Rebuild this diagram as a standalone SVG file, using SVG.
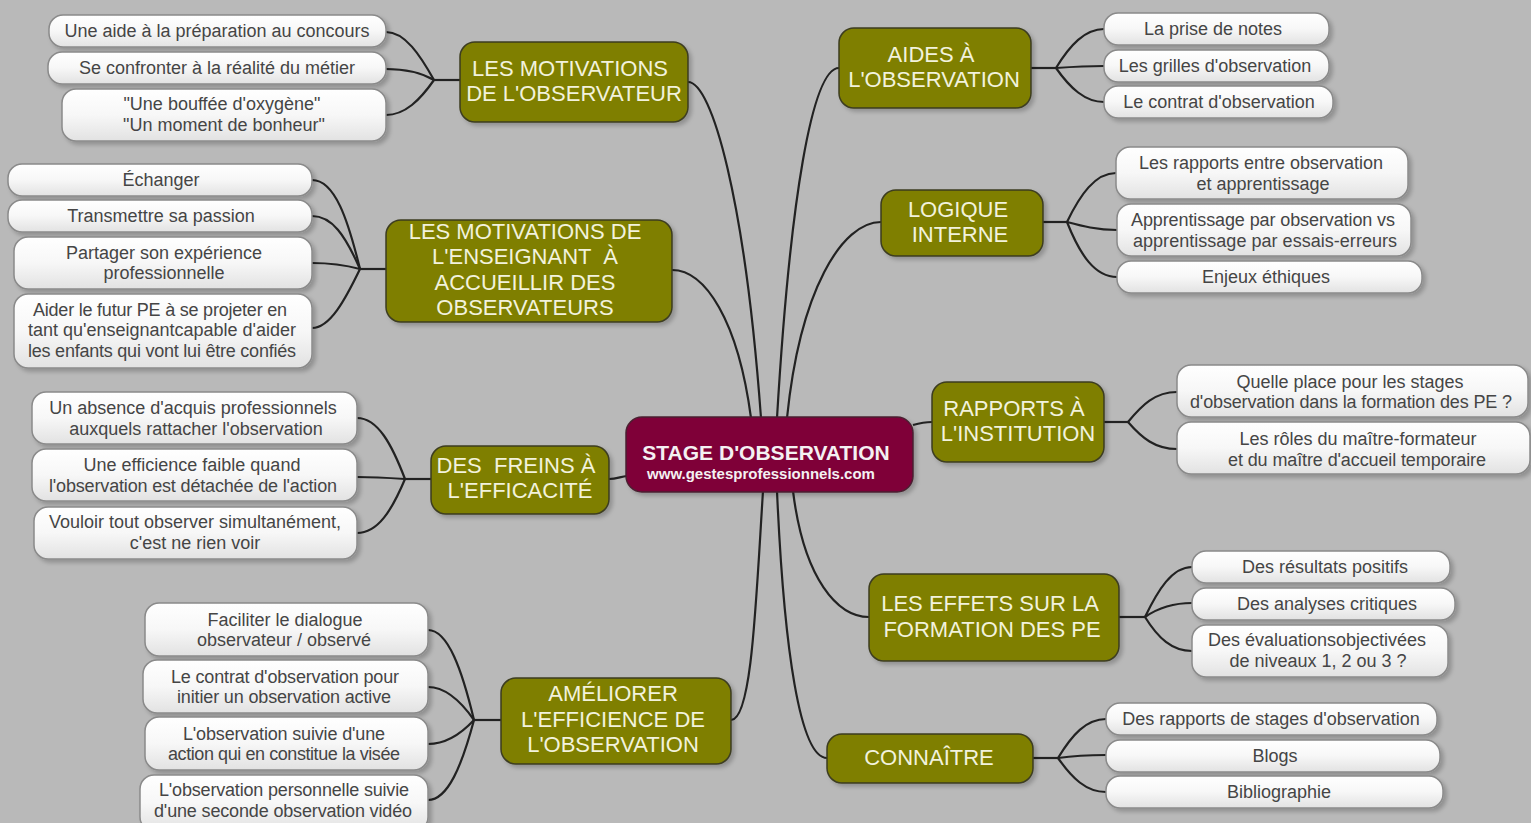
<svg xmlns="http://www.w3.org/2000/svg" width="1531" height="823" viewBox="0 0 1531 823">
<defs>
<linearGradient id="leafg" x1="0" y1="0" x2="0" y2="1">
<stop offset="0" stop-color="#ffffff"/>
<stop offset="0.5" stop-color="#f7f7f7"/>
<stop offset="1" stop-color="#e2e2e2"/>
</linearGradient>
<filter id="sh" x="-10%" y="-20%" width="125%" height="150%">
<feDropShadow dx="3" dy="3" stdDeviation="2" flood-color="#000" flood-opacity="0.22"/>
</filter>
</defs>
<style>
.leaf rect{fill:url(#leafg);stroke:#8a8a8a;stroke-width:1.5;filter:url(#sh)}
.leaf text{font-family:"Liberation Sans",Arial,sans-serif;font-size:18px;fill:#454545;text-anchor:middle}
.branch rect{fill:#7f7f00;stroke:#3d3d20;stroke-width:1.5;filter:url(#sh)}
.branch text{font-family:"Liberation Sans",Arial,sans-serif;font-size:22px;fill:#f2f2dc;text-anchor:middle}
.center rect{fill:#7f0039;stroke:#4a2030;stroke-width:1.5;filter:url(#sh)}
.center text{font-family:"Liberation Sans",Arial,sans-serif;font-weight:bold;fill:#f4f0f2;text-anchor:middle}
#connectors path{fill:none;stroke:#222;stroke-width:2.2}
</style>
<rect width="1531" height="823" fill="#b9b9b9"/>

<g id="connectors">
<path d="M688,82 C712,82 745,200 761,418"/>
<path d="M672,270 C705,270 738,320 751,418"/>
<path d="M839,68 C812,68 790,200 777,418"/>
<path d="M881,222 C842,222 800,290 787,418"/>
<path d="M609,479 C616,479 620,477 627,476"/>
<path d="M913,425 C920,423 925,422 932,422"/>
<path d="M731,720 C752,720 756,600 763,491"/>
<path d="M827,758 C800,758 784,650 777,491"/>
<path d="M869,617 C838,617 804,580 793,491"/>
<path d="M460,80 L434,80"/>
<path d="M434,80 C420,55 405,32 386,32"/>
<path d="M434,80 C420,72 405,69 386,69"/>
<path d="M434,80 C420,100 405,115 386,115"/>
<path d="M386,269 L360,269"/>
<path d="M360,269 C348,220 335,180 312,180"/>
<path d="M360,269 C345,235 332,216 312,216"/>
<path d="M360,269 C345,265 330,263 312,263"/>
<path d="M360,269 C345,300 330,328 312,328"/>
<path d="M431,479 L405,479"/>
<path d="M405,479 C392,445 378,418 357,418"/>
<path d="M405,479 C390,478 375,477 357,477"/>
<path d="M405,479 C392,510 378,533 357,533"/>
<path d="M501,720 L474,720"/>
<path d="M474,720 C462,670 448,630 428,630"/>
<path d="M474,720 C460,700 445,687 428,687"/>
<path d="M474,720 C460,735 445,744 428,744"/>
<path d="M474,720 C462,765 448,800 428,800"/>
<path d="M1031,68 L1056,68"/>
<path d="M1056,68 C1070,45 1085,29 1104,29"/>
<path d="M1056,68 C1070,67 1085,66 1104,66"/>
<path d="M1056,68 C1070,88 1085,102 1104,102"/>
<path d="M1043,222 L1067,222"/>
<path d="M1067,222 C1080,195 1095,173 1116,173"/>
<path d="M1067,222 C1082,226 1097,230 1117,230"/>
<path d="M1067,222 C1080,255 1095,277 1117,277"/>
<path d="M1104,422 L1128,422"/>
<path d="M1128,422 C1142,405 1155,392 1177,392"/>
<path d="M1128,422 C1142,438 1155,449 1177,449"/>
<path d="M1119,617 L1145,617"/>
<path d="M1145,617 C1158,590 1172,567 1192,567"/>
<path d="M1145,617 C1158,608 1172,603 1192,603"/>
<path d="M1145,617 C1158,638 1172,651 1192,651"/>
<path d="M1033,758 L1058,758"/>
<path d="M1058,758 C1072,735 1086,719 1106,719"/>
<path d="M1058,758 C1072,756 1086,755 1106,755"/>
<path d="M1058,758 C1072,778 1086,792 1106,792"/>
</g>

<g id="center" class="center">
<rect x="626" y="417" width="287" height="75" rx="16"/>
<text x="766" y="460" font-size="21">STAGE D'OBSERVATION</text>
<text x="761" y="479" font-size="15">www.gestesprofessionnels.com</text>
</g>

<g id="b-motiv-obs" class="branch">
<rect x="460" y="42" width="228" height="80" rx="15"/>
<text x="570" y="76">LES MOTIVATIONS</text>
<text x="574" y="101">DE L'OBSERVATEUR</text>
</g>
<g id="b-motiv-ens" class="branch">
<rect x="386" y="220" width="286" height="102" rx="15"/>
<text x="525" y="239">LES MOTIVATIONS DE</text>
<text x="525" y="264" xml:space="preserve">L'ENSEIGNANT  À</text>
<text x="525" y="290">ACCUEILLIR DES</text>
<text x="525" y="315">OBSERVATEURS</text>
</g>
<g id="b-freins" class="branch">
<rect x="431" y="446" width="178" height="68" rx="15"/>
<text x="516" y="473" xml:space="preserve">DES  FREINS À</text>
<text x="520" y="498">L'EFFICACITÉ</text>
</g>
<g id="b-ameliorer" class="branch">
<rect x="501" y="678" width="230" height="86" rx="15"/>
<text x="613" y="701">AMÉLIORER</text>
<text x="613" y="727">L'EFFICIENCE DE</text>
<text x="613" y="752">L'OBSERVATION</text>
</g>
<g id="b-aides" class="branch">
<rect x="839" y="28" width="192" height="80" rx="15"/>
<text x="931" y="62">AIDES À</text>
<text x="934" y="87">L'OBSERVATION</text>
</g>
<g id="b-logique" class="branch">
<rect x="881" y="190" width="162" height="66" rx="15"/>
<text x="958" y="217">LOGIQUE</text>
<text x="960" y="242">INTERNE</text>
</g>
<g id="b-rapports" class="branch">
<rect x="932" y="382" width="172" height="80" rx="15"/>
<text x="1014" y="416">RAPPORTS À</text>
<text x="1018" y="441">L'INSTITUTION</text>
</g>
<g id="b-effets" class="branch">
<rect x="869" y="574" width="250" height="87" rx="15"/>
<text x="990" y="611">LES EFFETS SUR LA</text>
<text x="992" y="637">FORMATION DES PE</text>
</g>
<g id="b-connaitre" class="branch">
<rect x="827" y="734" width="206" height="49" rx="15"/>
<text x="929" y="765">CONNAÎTRE</text>
</g>

<g id="l-concours" class="leaf"><rect x="49" y="15" width="337" height="32" rx="14"/><text x="217" y="37">Une aide à la préparation au concours</text></g>
<g id="l-confronter" class="leaf"><rect x="48" y="52" width="338" height="32" rx="14"/><text x="217" y="74">Se confronter à la réalité du métier</text></g>
<g id="l-bouffee" class="leaf"><rect x="62" y="89" width="324" height="52" rx="14"/><text x="222" y="110">"Une bouffée d'oxygène"</text><text x="224" y="131">"Un moment de bonheur"</text></g>

<g id="l-echanger" class="leaf"><rect x="8" y="164" width="304" height="32" rx="14"/><text x="161" y="186">Échanger</text></g>
<g id="l-transmettre" class="leaf"><rect x="8" y="200" width="304" height="32" rx="14"/><text x="161" y="222">Transmettre sa passion</text></g>
<g id="l-partager" class="leaf"><rect x="14" y="237" width="298" height="52" rx="14"/><text x="164" y="259">Partager son expérience</text><text x="164" y="279">professionnelle</text></g>
<g id="l-aider" class="leaf"><rect x="14" y="294" width="298" height="74" rx="14"/><text x="160" y="316" textLength="254">Aider le futur PE à se projeter en</text><text x="162" y="336">tant qu'enseignantcapable d'aider</text><text x="162" y="357" textLength="268">les enfants qui vont lui être confiés</text></g>

<g id="l-absence" class="leaf"><rect x="32" y="392" width="325" height="52" rx="14"/><text x="193" y="414">Un absence d'acquis professionnels</text><text x="196" y="435">auxquels rattacher l'observation</text></g>
<g id="l-efficience" class="leaf"><rect x="32" y="449" width="325" height="52" rx="14"/><text x="192" y="471">Une efficience faible quand</text><text x="193" y="492" textLength="288">l'observation est détachée de l'action</text></g>
<g id="l-vouloir" class="leaf"><rect x="34" y="507" width="323" height="52" rx="14"/><text x="195" y="528">Vouloir tout observer simultanément,</text><text x="195" y="549">c'est ne rien voir</text></g>

<g id="l-faciliter" class="leaf"><rect x="145" y="603" width="283" height="53" rx="14"/><text x="285" y="626">Faciliter le dialogue</text><text x="284" y="646">observateur / observé</text></g>
<g id="l-contrat-pour" class="leaf"><rect x="143" y="660" width="285" height="53" rx="14"/><text x="285" y="683" textLength="228">Le contrat d'observation pour</text><text x="284" y="703" textLength="214">initier un observation active</text></g>
<g id="l-suivie" class="leaf"><rect x="145" y="717" width="283" height="53" rx="14"/><text x="284" y="740" textLength="202">L'observation suivie d'une</text><text x="284" y="760" textLength="232">action qui en constitue la visée</text></g>
<g id="l-video" class="leaf"><rect x="140" y="775" width="288" height="56" rx="14"/><text x="284" y="796" textLength="250">L'observation personnelle suivie</text><text x="283" y="817" textLength="258">d'une seconde observation vidéo</text></g>

<g id="l-notes" class="leaf"><rect x="1104" y="13" width="225" height="32" rx="14"/><text x="1213" y="35">La prise de notes</text></g>
<g id="l-grilles" class="leaf"><rect x="1104" y="50" width="225" height="32" rx="14"/><text x="1215" y="72">Les grilles d'observation</text></g>
<g id="l-contrat" class="leaf"><rect x="1104" y="86" width="229" height="32" rx="14"/><text x="1219" y="108">Le contrat d'observation</text></g>

<g id="l-rapports-obs" class="leaf"><rect x="1116" y="147" width="292" height="52" rx="14"/><text x="1261" y="169">Les rapports entre observation</text><text x="1263" y="190">et apprentissage</text></g>
<g id="l-apprentissage" class="leaf"><rect x="1117" y="204" width="294" height="52" rx="14"/><text x="1263" y="226" textLength="264">Apprentissage par observation vs</text><text x="1265" y="247" textLength="264">apprentissage par essais-erreurs</text></g>
<g id="l-enjeux" class="leaf"><rect x="1117" y="261" width="305" height="32" rx="14"/><text x="1266" y="283">Enjeux éthiques</text></g>

<g id="l-place" class="leaf"><rect x="1177" y="365" width="351" height="52" rx="14"/><text x="1350" y="388">Quelle place pour les stages</text><text x="1351" y="408" textLength="322">d'observation dans la formation des PE ?</text></g>
<g id="l-roles" class="leaf"><rect x="1177" y="422" width="353" height="52" rx="14"/><text x="1358" y="445">Les rôles du maître-formateur</text><text x="1357" y="466" textLength="258">et du maître d'accueil temporaire</text></g>

<g id="l-resultats" class="leaf"><rect x="1192" y="551" width="258" height="32" rx="14"/><text x="1325" y="573">Des résultats positifs</text></g>
<g id="l-analyses" class="leaf"><rect x="1192" y="588" width="263" height="32" rx="14"/><text x="1327" y="610">Des analyses critiques</text></g>
<g id="l-evaluations" class="leaf"><rect x="1192" y="625" width="256" height="52" rx="14"/><text x="1317" y="646">Des évaluationsobjectivées</text><text x="1318" y="667">de niveaux 1, 2 ou 3 ?</text></g>

<g id="l-rapports-stages" class="leaf"><rect x="1106" y="703" width="331" height="32" rx="14"/><text x="1271" y="725">Des rapports de stages d'observation</text></g>
<g id="l-blogs" class="leaf"><rect x="1106" y="740" width="334" height="32" rx="14"/><text x="1275" y="762">Blogs</text></g>
<g id="l-biblio" class="leaf"><rect x="1106" y="776" width="337" height="32" rx="14"/><text x="1279" y="798">Bibliographie</text></g>
</svg>
